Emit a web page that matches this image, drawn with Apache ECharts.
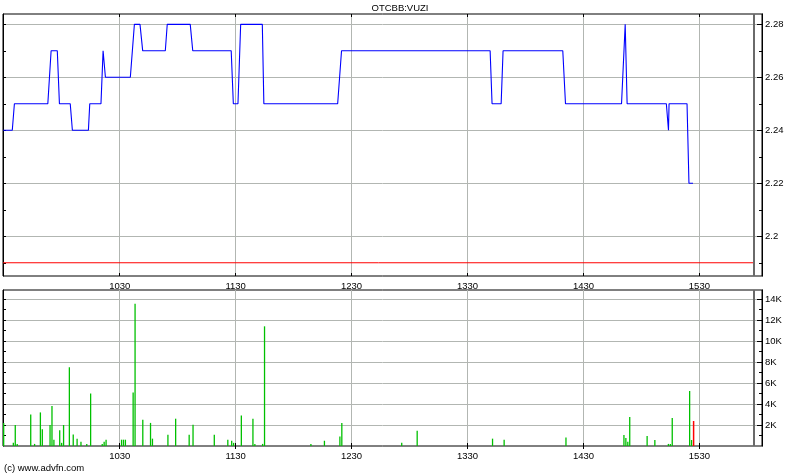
<!DOCTYPE html>
<html>
<head>
<meta charset="utf-8">
<script src="https://cdn.jsdelivr.net/npm/echarts@6/dist/echarts.min.js"></script>
<style>
html,body{margin:0;padding:0;background:#fff;}
#chart{width:800px;height:475px;}
</style>
</head>
<body>
<div id="chart"></div>
<script>
// Time axis in minutes after midnight (e.g. 630 = 10:30)
const titleText = 'OTCBB:VUZI';
const creditText = '(c) www.advfn.com';

const hourTicks = [630, 690, 750, 810, 870, 930];           // 1030 .. 1530
const sessionStart = 569.6;
const sessionEnd = 958.2;                                    // dark grey end-of-session marker
const prevClose = 2.19;                                      // red reference line

// Price (step line through trade points)
const priceTimes = [569.7, 574.4, 575.5, 592.8, 594.5, 597.7, 598.8, 604.4, 605.5, 613.8,
  614.5, 620.3, 621.4, 622.6, 635.5, 637.6, 640.5, 641.9, 653.6, 654.6,
  666.5, 667.8, 687.7, 688.8, 691.2, 692.6, 703.8, 704.6, 742.8, 744.8,
  821.7, 822.7, 827.4, 828.4, 859.3, 860.7, 889.7, 891.6, 892.6, 912.9,
  914.0, 914.3, 923.6, 924.6, 926.7];
const priceValues = [2.24, 2.24, 2.25, 2.25, 2.27, 2.27, 2.25, 2.25, 2.24, 2.24,
  2.25, 2.25, 2.27, 2.26, 2.26, 2.28, 2.28, 2.27, 2.27, 2.28,
  2.28, 2.27, 2.27, 2.25, 2.25, 2.28, 2.28, 2.25, 2.25, 2.27,
  2.27, 2.25, 2.25, 2.27, 2.27, 2.25, 2.25, 2.28, 2.25, 2.25,
  2.24, 2.25, 2.25, 2.22, 2.22];

const priceMajorTicks = [2.2, 2.22, 2.24, 2.26, 2.28];
const priceMinorTicks = [2.19, 2.21, 2.23, 2.25, 2.27];

// Volume (shares per trade minute)
const volTimes = [570, 575, 576, 577, 584, 586, 589, 590, 594, 595,
  596, 599, 600, 601, 604, 606, 608, 610, 613, 615,
  621, 622, 623, 631, 632, 633, 637, 638, 642, 646,
  647, 655, 659, 666, 668, 679, 686, 688, 689, 693,
  699, 700, 704, 705, 729, 736, 744, 745, 776, 784,
  823, 829, 861, 891, 892, 893, 894, 903, 907, 914,
  915, 916, 925, 926];
const volValues = [2200, 300, 2000, 200, 3000, 200, 3200, 1600, 2000, 3800,
  600, 1500, 300, 2000, 7500, 1100, 700, 400, 200, 5000,
  200, 400, 600, 600, 600, 600, 5100, 13560, 2500, 2200,
  700, 1080, 2600, 1080, 2030, 1080, 600, 500, 300, 2900,
  2600, 200, 200, 11400, 200, 500, 900, 2200, 300, 1460,
  700, 600, 800, 1050, 760, 400, 2760, 950, 570, 200,
  200, 2670, 5240, 570];
const volDownTimes = [927];
const volDownValues = [2380];

const volMajorTicks = [2000, 4000, 6000, 8000, 10000, 12000, 14000];
const volMinorTicks = [1000, 3000, 5000, 7000, 9000, 11000, 13000];
const volLabels = ['2K', '4K', '6K', '8K', '10K', '12K', '14K'];

// ---------------------------------------------------------------
const X_MIN = 569.6, X_MAX = 962.4;
const P_MIN = 2.185, P_MAX = 2.2839;
const V_MIN = 0, V_MAX = 14860;
const FONT = 'Liberation Sans';
const GRID_C = '#b2b6b2';

function fmtTime(v) {
  const h = Math.floor(v / 60), m = Math.round(v - h * 60);
  return String(h * 100 + m);
}

function xAxisDef(gi, pos, showLabel) {
  return {
    type: 'value', gridIndex: gi, position: pos, min: X_MIN, max: X_MAX,
    axisLine: { show: false },
    axisTick: { show: true, inside: true, length: 3, customValues: hourTicks, lineStyle: { color: '#000' } },
    axisLabel: { show: showLabel, customValues: hourTicks, formatter: fmtTime, margin: 5,
      color: '#000', fontSize: 9.5, fontFamily: FONT },
    splitLine: { show: pos === 'bottom', lineStyle: { color: GRID_C, width: 1 } }
  };
}

function yAxisDef(gi, pos, min, max, ticks, len, labels, split, fmt) {
  return {
    type: 'value', gridIndex: gi, position: pos, min: min, max: max,
    axisLine: { show: true, lineStyle: { color: '#000', width: 1 } },
    axisTick: { show: true, inside: true, length: len, customValues: ticks, lineStyle: { color: '#000' } },
    axisLabel: { show: labels, customValues: ticks, formatter: fmt, margin: 3,
      color: '#000', fontSize: 9.5, fontFamily: FONT },
    splitLine: { show: split, lineStyle: { color: GRID_C, width: 1 } }
  };
}

const allPriceTicks = priceMajorTicks.concat(priceMinorTicks);
const allVolTicks = volMajorTicks.concat(volMinorTicks);

const chart = echarts.init(document.getElementById('chart'), null, { renderer: 'canvas' });

const endMarker = {
  silent: true, symbol: 'none', label: { show: false }, animation: false,
  lineStyle: { color: '#6a6a6a', width: 2, type: 'solid' },
  data: [{ xAxis: sessionEnd }]
};

chart.setOption({
  animation: false,
  backgroundColor: '#fff',
  textStyle: { fontFamily: FONT },
  grid: [
    { left: 3, right: 38, top: 14, height: 262, show: true, borderColor: '#000', borderWidth: 1, backgroundColor: 'transparent' },
    { left: 3, right: 38, top: 290, height: 156, show: true, borderColor: '#000', borderWidth: 1, backgroundColor: 'transparent' }
  ],
  xAxis: [
    xAxisDef(0, 'bottom', true),
    xAxisDef(1, 'bottom', true),
    xAxisDef(0, 'top', false),
    xAxisDef(1, 'top', false)
  ],
  yAxis: [
    yAxisDef(0, 'right', P_MIN, P_MAX, priceMajorTicks, 5, true, true, v => String(Math.round(v * 100) / 100)),
    yAxisDef(0, 'right', P_MIN, P_MAX, priceMinorTicks, 3, false, false),
    yAxisDef(0, 'left', P_MIN, P_MAX, allPriceTicks, 3, false, false),
    yAxisDef(1, 'right', V_MIN, V_MAX, volMajorTicks, 5, true, true, v => volLabels[volMajorTicks.indexOf(Math.round(v))]),
    yAxisDef(1, 'right', V_MIN, V_MAX, volMinorTicks, 3, false, false),
    yAxisDef(1, 'left', V_MIN, V_MAX, allVolTicks, 3, false, false)
  ],
  series: [
    {
      name: 'prevClose', type: 'line', xAxisIndex: 0, yAxisIndex: 0,
      data: [[sessionStart, prevClose], [sessionEnd, prevClose]],
      symbol: 'none', z: 4, color: '#ff0000',
      itemStyle: { color: '#ff0000' },
      lineStyle: { color: '#ff0000', width: 1 }
    },
    {
      name: 'price', type: 'line', xAxisIndex: 0, yAxisIndex: 0,
      data: priceTimes.map((t, i) => [t, priceValues[i]]),
      symbol: 'none', z: 5,
      lineStyle: { color: '#0000ff', width: 1.1 },
      markLine: endMarker
    },
    {
      type: 'bar', xAxisIndex: 1, yAxisIndex: 3,
      data: volTimes.map((t, i) => [t, volValues[i]]),
      barWidth: 1.3, itemStyle: { color: '#00c000' },
      markLine: endMarker
    },
    {
      type: 'bar', xAxisIndex: 1, yAxisIndex: 3,
      data: volDownTimes.map((t, i) => [t, volDownValues[i]]),
      barWidth: 1.5, barGap: '-100%', itemStyle: { color: '#ff0000' }
    }
  ],
  graphic: [
    { type: 'text', left: 'center', top: 3,
      style: { text: titleText, fill: '#000', font: '9.5px "Liberation Sans"' } },
    { type: 'text', left: 4, top: 463,
      style: { text: creditText, fill: '#000', font: '9.5px "Liberation Sans"' } }
  ]
});
</script>
</body>
</html>
